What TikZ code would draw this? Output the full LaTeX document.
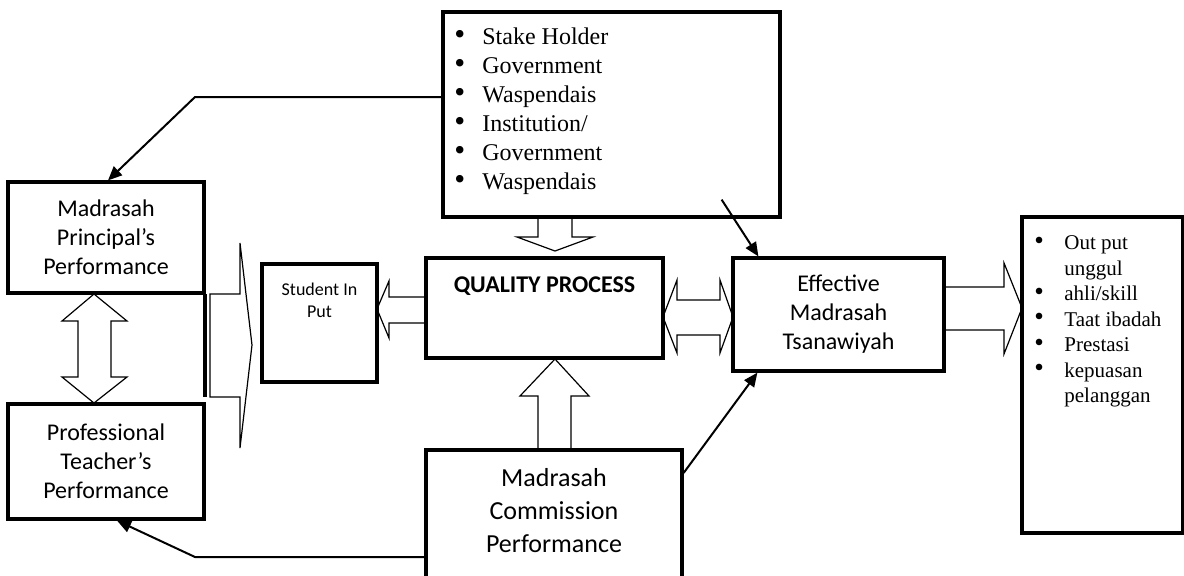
\documentclass[tikz,border=0pt]{standalone}
\usepackage{fontspec}
\setmainfont{Liberation Serif}
\newfontfamily\calibri{Carlito}
\usepackage{tikz}
\usetikzlibrary{arrows.meta, positioning, calc}
\newcommand{\listdot}{\smash{\raisebox{0.05ex}{\scalebox{1.3}{\textbullet}}}}

\begin{document}
\begin{tikzpicture}[
  x=0.5pt, y=-0.5pt,
  box/.style={draw, line width=1.6pt, inner sep=0pt, align=center, font=\calibri\fontsize{12}{14.5}\selectfont},
  bulletlist/.style={inner sep=0pt, anchor=west},
  blockarrow/.style={draw, line width=0.6pt, line join=miter},
  thinarrow/.style={-{Triangle[length=7pt, width=6pt]}, line width=1pt}
]
\useasboundingbox (0,0) rectangle (1184,575);

% Stakeholders (top)
\node[box, minimum width=168.5pt, minimum height=102.5pt] (stake) at (611.5,114.5) {};
\node[bulletlist, font=\fontsize{12}{14.5}\selectfont] (stakelist) at (454,111.5)
  {\begin{tabular}{@{}p{14pt}@{}l@{}}
   \listdot & Stake Holder\\
   \listdot & Government\\
   \listdot & Waspendais\\
   \listdot & Institution/\\
   \listdot & Government\\
   \listdot & Waspendais
   \end{tabular}};

% Left column
\node[box, minimum width=98pt, minimum height=55.5pt] (principal) at (106,237.5)
  {Madrasah\\Principal’s\\Performance};
\node[box, minimum width=98pt, minimum height=57.5pt] (teacher) at (106,461.5)
  {Professional\\Teacher’s\\Performance};

% Student input
\node[box, minimum width=57.5pt, minimum height=59pt] (student) at (319.5,323) {};
\node[font=\calibri\fontsize{9}{11}\selectfont, align=center] (studenttext) at (319.5,300) {Student In\\Put};

% Quality process (center)
\node[box, minimum width=118.5pt, minimum height=50pt] (quality) at (544.5,308) {};
\node[font=\calibri\bfseries\fontsize{12}{14.5}\selectfont] (qualitytext) at (544.5,286) {QUALITY PROCESS};

% Effective madrasah
\node[box, minimum width=105.5pt, minimum height=56.5pt] (effective) at (838.5,314.5)
  {Effective\\Madrasah\\Tsanawiyah};

% Commission (bottom)
\node[box, minimum width=128pt, minimum height=75pt] (commission) at (554,525) {};
\node[font=\calibri\fontsize{13}{16.5}\selectfont, align=center] (commissiontext) at (554,511)
  {Madrasah\\Commission\\Performance};

% Output (right)
\node[box, minimum width=80.5pt, minimum height=158pt] (output) at (1102.5,375) {};
\node[bulletlist, font=\fontsize{10.5}{12.75}\selectfont] (outputlist) at (1034,321)
  {\begin{tabular}{@{}p{15pt}@{}l@{}}
   \listdot & Out put\\
            & unggul\\
   \listdot & ahli/skill\\
   \listdot & Taat ibadah\\
   \listdot & Prestasi\\
   \listdot & kepuasan\\
            & pelanggan
   \end{tabular}};

% Block arrows
\draw[blockarrow] (538,217) -- (538,237) -- (517,237) -- (555,251) -- (593,237) -- (572,237) -- (572,217);
\draw[blockarrow] (538,450) -- (538,396) -- (520,396) -- (555,359) -- (589,396) -- (571,396) -- (571,450);
\draw[blockarrow] (426,297) -- (389,297) -- (389,281) -- (377,309) -- (389,338) -- (389,323) -- (426,323);
\draw[blockarrow] (663,317) -- (677,280) -- (677,300) -- (720,300) -- (720,280) -- (733,317)
  -- (720,353) -- (720,335) -- (677,335) -- (677,353) -- cycle;
\draw[blockarrow] (944,287) -- (1004,287) -- (1004,263) -- (1022,308) -- (1004,354) -- (1004,330) -- (944,330);
\draw[blockarrow] (210,294) -- (240,294) -- (240,243) -- (252,345) -- (240,448) -- (240,397) -- (210,397) -- cycle;
\draw[line width=1.6pt] (205,294) -- (205,397);
\draw[blockarrow] (94,294) -- (127,321) -- (111,321) -- (111,377) -- (127,377) -- (94,403)
  -- (62,377) -- (78,377) -- (78,321) -- (62,321) -- cycle;

% Connectors
\coordinate (bendtop) at (195,97);
\coordinate (bendbottom) at (195,557);
\draw[thinarrow] ([yshift=8.75pt]stake.west) -- (bendtop) -- ([xshift=1pt]principal.north);
\draw[thinarrow] ([yshift=-16pt]commission.west) -- (bendbottom) -- ([xshift=5.5pt]teacher.south);
\draw[thinarrow] ([xshift=-30pt, yshift=9.5pt]stake.south east) -- ([xshift=13.5pt]effective.north west);
\draw[thinarrow] ([yshift=26pt]commission.east) -- ([xshift=13pt]effective.south west);

\end{tikzpicture}
\end{document}
